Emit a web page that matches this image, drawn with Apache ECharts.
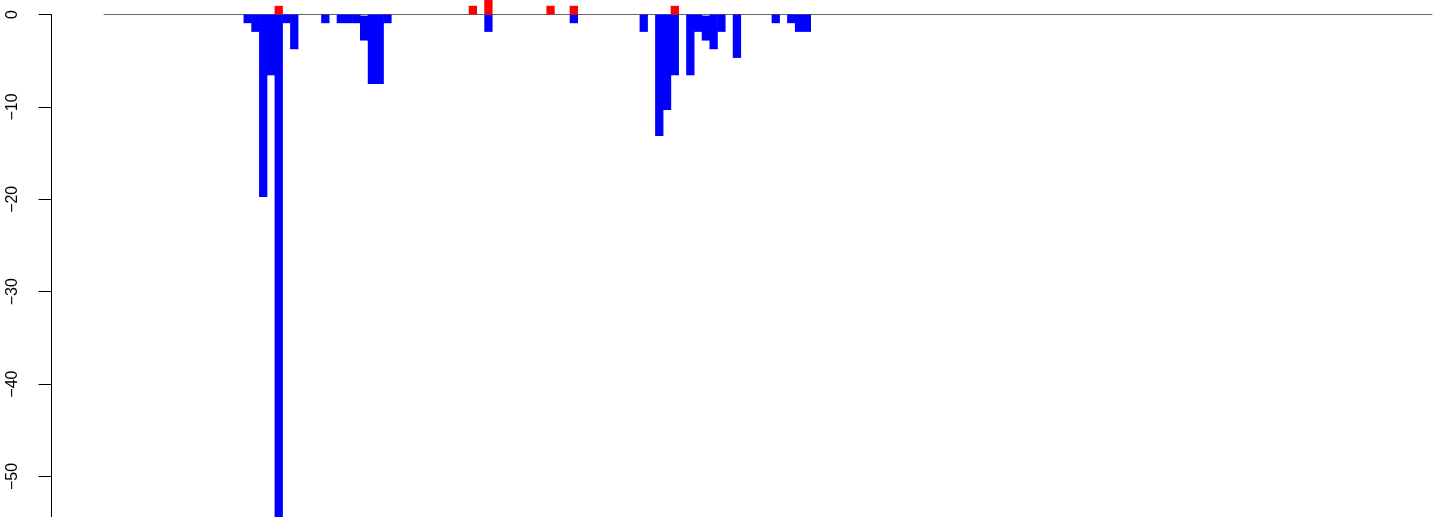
<!DOCTYPE html>
<html>
<head>
<meta charset="utf-8">
<script src="https://cdn.jsdelivr.net/npm/echarts@6/dist/echarts.min.js"></script>
<style>
  html, body { margin: 0; padding: 0; background: #ffffff; }
  #chart { width: 1444px; height: 517px; }
</style>
</head>
<body>
<div id="chart"></div>
<script>
// ---- data ----
const binCount = 171;                 // number of bar slots along the x axis
// losses (blue): slot index, bottom value, top value (bar start)
const lossBins   = [18, 19, 20, 21, 22, 23, 24, 28, 30, 31, 32, 33, 34, 35, 36, 49, 60, 69, 71, 72, 73, 75, 76, 77, 78, 79, 81, 86, 88, 89, 90];
const lossValues = [-0.94, -1.88, -19.74, -6.58, -56.4, -0.94, -3.76, -0.94, -0.94, -0.94, -0.94, -2.82, -7.52, -7.52, -0.94, -1.88, -0.94, -1.88, -13.16, -10.34, -6.58, -6.58, -1.88, -2.82, -3.76, -1.88, -4.7, -0.94, -0.94, -1.88, -1.88];
const lossStart  = [0, 0, 0, 0, 0, 0, 0, 0, 0, 0, 0, -0.12, 0, 0, 0, 0, 0, 0, 0, 0, 0, 0, 0, -0.12, 0, 0, 0, 0, 0, 0, 0];
// gains (red)
const gainBins   = [22, 47, 49, 57, 60, 73];
const gainValues = [0.94, 0.94, 2.0, 0.94, 0.94, 0.94];
// y axis ticks
const yTicks = [0, -10, -20, -30, -40, -50, -60];

// ---- build series ----
const categories = [];
for (let i = 0; i < binCount; i++) categories.push(String(i + 1));
const offsetData = new Array(binCount).fill(null);
const lossData = new Array(binCount).fill(null);
const gainData = new Array(binCount).fill(null);
lossBins.forEach((b, i) => {
  if (lossStart[i] !== 0) offsetData[b] = lossStart[i];
  lossData[b] = +(lossValues[i] - lossStart[i]).toFixed(4);
});
gainBins.forEach((b, i) => { gainData[b] = gainValues[i]; });

const chart = echarts.init(document.getElementById('chart'), null, { renderer: 'canvas' });
const yMin = Math.min.apply(null, yTicks);
const yMax = Math.max.apply(null, yTicks);
chart.setOption({
  animation: false,
  backgroundColor: '#ffffff',
  grid: { left: 104, top: 14.5, width: 1328, height: 554.4, containLabel: false, outerBoundsMode: 'none' },
  xAxis: {
    type: 'category',
    data: categories,
    boundaryGap: true,
    axisLine: { show: true, onZero: true, lineStyle: { color: '#666666', width: 1 } },
    axisTick: { show: false },
    axisLabel: { show: false },
    splitLine: { show: false }
  },
  yAxis: {
    type: 'value',
    min: yMin,
    max: yMax,
    interval: 10,
    offset: 52.5,
    axisLine: { show: true, lineStyle: { color: '#000000', width: 1 } },
    axisTick: { show: true, length: 13, inside: false, lineStyle: { color: '#000000', width: 1 } },
    axisLabel: {
      show: true,
      rotate: 90,
      margin: 31,
      color: '#000000',
      fontFamily: 'Liberation Sans, Arial, sans-serif',
      fontSize: 16,
      formatter: v => String(v).replace('-', '\u2212')
    },
    splitLine: { show: false }
  },
  series: [
    { name: 'offset', type: 'bar', stack: 'a', data: offsetData, barWidth: 8.3, clip: false,
      itemStyle: { color: 'rgba(0,0,0,0)' }, silent: true },
    { name: 'loss', type: 'bar', stack: 'a', data: lossData, barWidth: 8.3, clip: false,
      itemStyle: { color: '#0000ff' } },
    { name: 'gain', type: 'bar', stack: 'a', data: gainData, barWidth: 8.3, clip: false,
      itemStyle: { color: '#ff0000' } }
  ]
});
</script>
</body>
</html>
